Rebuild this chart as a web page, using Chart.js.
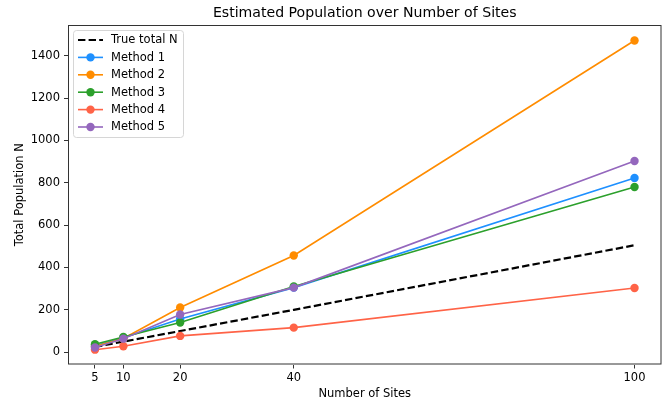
<!DOCTYPE html>
<html>
<head>
<meta charset="utf-8">
<script src="https://cdn.jsdelivr.net/npm/chart.js@4.4.0/dist/chart.umd.min.js"></script>
<style>
  html, body { margin: 0; padding: 0; background: #fff; }
  #wrap { width: 667px; height: 402px; }
</style>
</head>
<body>
<div id="wrap"><canvas id="chart" width="667" height="402"></canvas></div>
<script>
  // Data
  var sites = [5, 10, 20, 40, 100];
  var trueN = [25, 50, 100, 200, 505];
  var method1 = [30, 68, 157, 305, 823];
  var method2 = [28, 65, 211, 457, 1472];
  var method3 = [38, 72, 140, 310, 780];
  var method4 = [12, 28, 77, 116, 303];
  var method5 = [22, 64, 178, 305, 903];
  var yTicks = [0, 200, 400, 600, 800, 1000, 1200, 1400];

  var FONT = "'DejaVu Sans', sans-serif";

  function pts(vals) {
    return sites.map(function (x, i) { return { x: x, y: vals[i] }; });
  }

  function series(label, vals, color, order) {
    return {
      label: label,
      data: pts(vals),
      borderColor: color,
      backgroundColor: color,
      borderWidth: 1.6,
      pointRadius: 4.2,
      pointBorderWidth: 0,
      pointBackgroundColor: color,
      tension: 0,
      order: order
    };
  }

  var datasets = [
    {
      label: "True total N",
      data: pts(trueN),
      borderColor: "#000",
      backgroundColor: "#000",
      borderWidth: 2.2,
      borderDash: [7.4, 3.2],
      pointRadius: 0,
      tension: 0,
      order: 6
    },
    series("Method 1", method1, "#1E90FF", 5),
    series("Method 2", method2, "#FF8C00", 4),
    series("Method 3", method3, "#2CA02C", 3),
    series("Method 4", method4, "#FF6347", 2),
    series("Method 5", method5, "#9467BD", 1)
  ];

  // Title, axis titles, frame and legend drawn on top
  var decor = {
    id: "decor",
    afterDraw: function (chart) {
      var c = chart.ctx;
      var a = chart.chartArea;
      c.save();
      // frame
      c.strokeStyle = "#333";
      c.lineWidth = 1;
      c.strokeRect(a.left + 0.5, a.top + 0.5, a.right - a.left - 1, a.bottom - a.top - 1);

      // title
      c.fillStyle = "#000";
      c.font = "14.1px " + FONT;
      c.textAlign = "center";
      c.textBaseline = "middle";
      c.fillText("Estimated Population over Number of Sites", (a.left + a.right) / 2, 13);

      // axis titles
      c.font = "11.5px " + FONT;
      c.fillText("Number of Sites", (a.left + a.right) / 2, 394);
      c.save();
      c.translate(20, (a.top + a.bottom) / 2);
      c.rotate(-Math.PI / 2);
      c.fillText("Total Population N", 0, 0);
      c.restore();

      // legend
      var lx = 73, ly = 30, lw = 110, lh = 107;
      c.beginPath();
      c.roundRect(lx + 0.5, ly + 0.5, lw, lh, 3);
      c.fillStyle = "rgba(255,255,255,0.8)";
      c.fill();
      c.strokeStyle = "#d6d6d6";
      c.lineWidth = 1;
      c.stroke();

      var order = [0, 1, 2, 3, 4, 5];
      order.forEach(function (idx, i) {
        var ds = chart.data.datasets[idx];
        var y = 40 + i * 17.4;
        c.beginPath();
        c.setLineDash(ds.borderDash || []);
        c.strokeStyle = ds.borderColor;
        c.lineWidth = ds.borderWidth;
        c.moveTo(78, y);
        c.lineTo(103, y);
        c.stroke();
        c.setLineDash([]);
        if (ds.pointRadius > 0) {
          c.beginPath();
          c.fillStyle = ds.borderColor;
          c.arc(90.5, y, 4.2, 0, Math.PI * 2);
          c.fill();
        }
        c.fillStyle = "#000";
        c.textAlign = "left";
        c.fillText(ds.label, 111, y + 0.5);
      });
      c.restore();
    }
  };

  new Chart(document.getElementById("chart").getContext("2d"), {
    type: "line",
    data: { datasets: datasets },
    options: {
      responsive: false,
      animation: false,
      devicePixelRatio: 1,
      layout: { padding: { top: 25, right: 5.5, left: 0, bottom: 0 } },
      plugins: {
        legend: { display: false },
        title: { display: false },
        tooltip: { enabled: false }
      },
      scales: {
        x: {
          type: "linear",
          min: 0.25,
          max: 104.75,
          afterBuildTicks: function (s) {
            s.ticks = sites.map(function (v) { return { value: v }; });
          },
          afterFit: function (s) { s.height = 37.5; },
          grid: { display: true, drawOnChartArea: false, tickLength: 4, color: "#333", tickColor: "#333" },
          border: { display: false },
          ticks: {
            color: "#000", padding: 3, maxRotation: 0,
            font: { family: FONT, size: 11.5 },
            callback: function (v) { return String(v); }
          }
        },
        y: {
          min: -58,
          max: 1545,
          afterBuildTicks: function (s) {
            s.ticks = yTicks.map(function (v) { return { value: v }; });
          },
          afterFit: function (s) { s.width = 68; },
          grid: { display: true, drawOnChartArea: false, tickLength: 4, color: "#333", tickColor: "#333" },
          border: { display: false },
          ticks: {
            color: "#000", padding: 4,
            font: { family: FONT, size: 11.5 },
            callback: function (v) { return String(v); }
          }
        }
      }
    },
    plugins: [decor]
  });
</script>
</body>
</html>
